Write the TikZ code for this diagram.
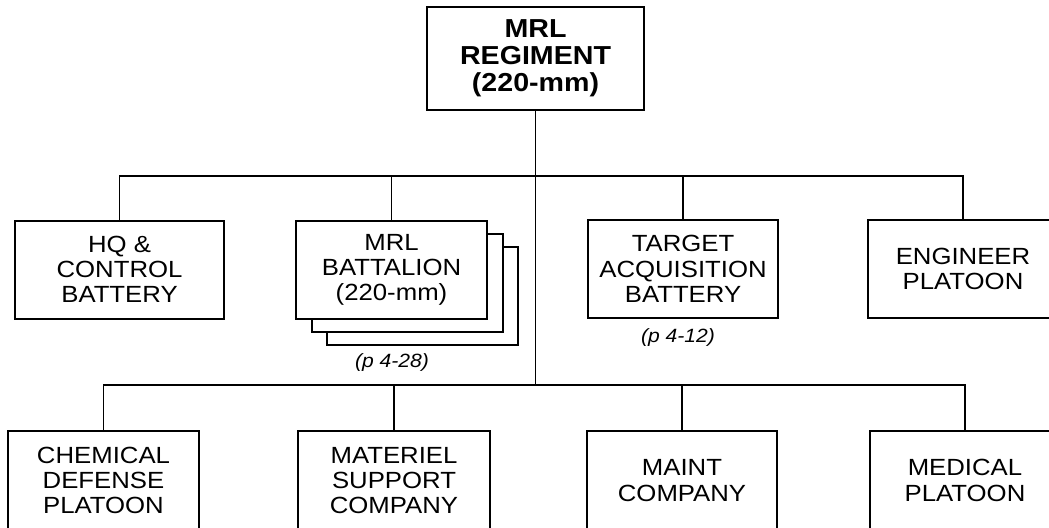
\documentclass[tikz,border=0pt]{standalone}
\usepackage{fontspec}
\setmainfont{Liberation Sans}[FakeStretch=1.1]
\usepackage{tikz}
\usetikzlibrary{positioning}
\tikzset{
  unit-box/.style={draw,line width=1pt,fill=white,inner sep=0pt,
    minimum height=49pt,minimum width=95.5pt,align=center,
    font=\fontsize{11.7}{12.6}\selectfont},
  unit-top/.style={unit-box,minimum width=108.5pt,minimum height=51.5pt,
    font=\fontsize{13}{13.6}\selectfont\bfseries},
  link/.style={line width=0.8pt},
  page-ref/.style={inner sep=0pt,font=\fontsize{9.6}{10}\selectfont\itshape},
}
\begin{document}
\begin{tikzpicture}[x=0.5pt,y=-0.5pt]
  \useasboundingbox (0,0) rectangle (1049,527);
  % regiment
  \node[unit-top] (reg) at (535.5,58.5) {MRL\\REGIMENT\\(220-mm)};
  \coordinate (busA) at (535.5,176);
  \coordinate (busB) at (535.5,385);
  % first row
  \node[unit-box,minimum width=104.5pt] (hq) at (119.5,269.5) {HQ \&\\CONTROL\\BATTERY};
  \node[unit-box] (bn3) at (422,295.5) {};
  \node[unit-box] (bn2) at (407,282.5) {};
  \node[unit-box] (bn) at (391.5,270) {MRL\\BATTALION\\(220-mm)};
  \node[unit-box,minimum width=95pt] (ta) at (683,269) {TARGET\\ACQUISITION\\BATTERY};
  \node[unit-box,minimum width=95pt] (eng) at (963,269) {ENGINEER\\PLATOON};
  \node[page-ref] (bnref) at (392,363) {(p 4-28)};
  \node[page-ref] (taref) at (678,338) {(p 4-12)};
  % second row
  \node[unit-box,minimum height=50pt] (chem) at (103.5,480.5) {CHEMICAL\\DEFENSE\\PLATOON};
  \node[unit-box,minimum height=50pt,minimum width=96pt] (mat) at (394,480.5) {MATERIEL\\SUPPORT\\COMPANY};
  \node[unit-box,minimum height=50pt,minimum width=95pt] (maint) at (682,480.5) {MAINT\\COMPANY};
  \node[unit-box,minimum height=50pt,minimum width=95pt] (med) at (965,480.5) {MEDICAL\\PLATOON};
  % connectors
  \draw[link] (reg.south) -- (busB);
  \draw[link] (hq.north) |- (busA);
  \draw[link] (eng.north) |- (busA);
  \draw[link] (bn.north) -- (bn.north |- busA);
  \draw[link] (ta.north) -- (ta.north |- busA);
  \draw[link] (chem.north) |- (busB);
  \draw[link] (med.north) |- (busB);
  \draw[link] (mat.north) -- (mat.north |- busB);
  \draw[link] (maint.north) -- (maint.north |- busB);
\end{tikzpicture}
\end{document}
